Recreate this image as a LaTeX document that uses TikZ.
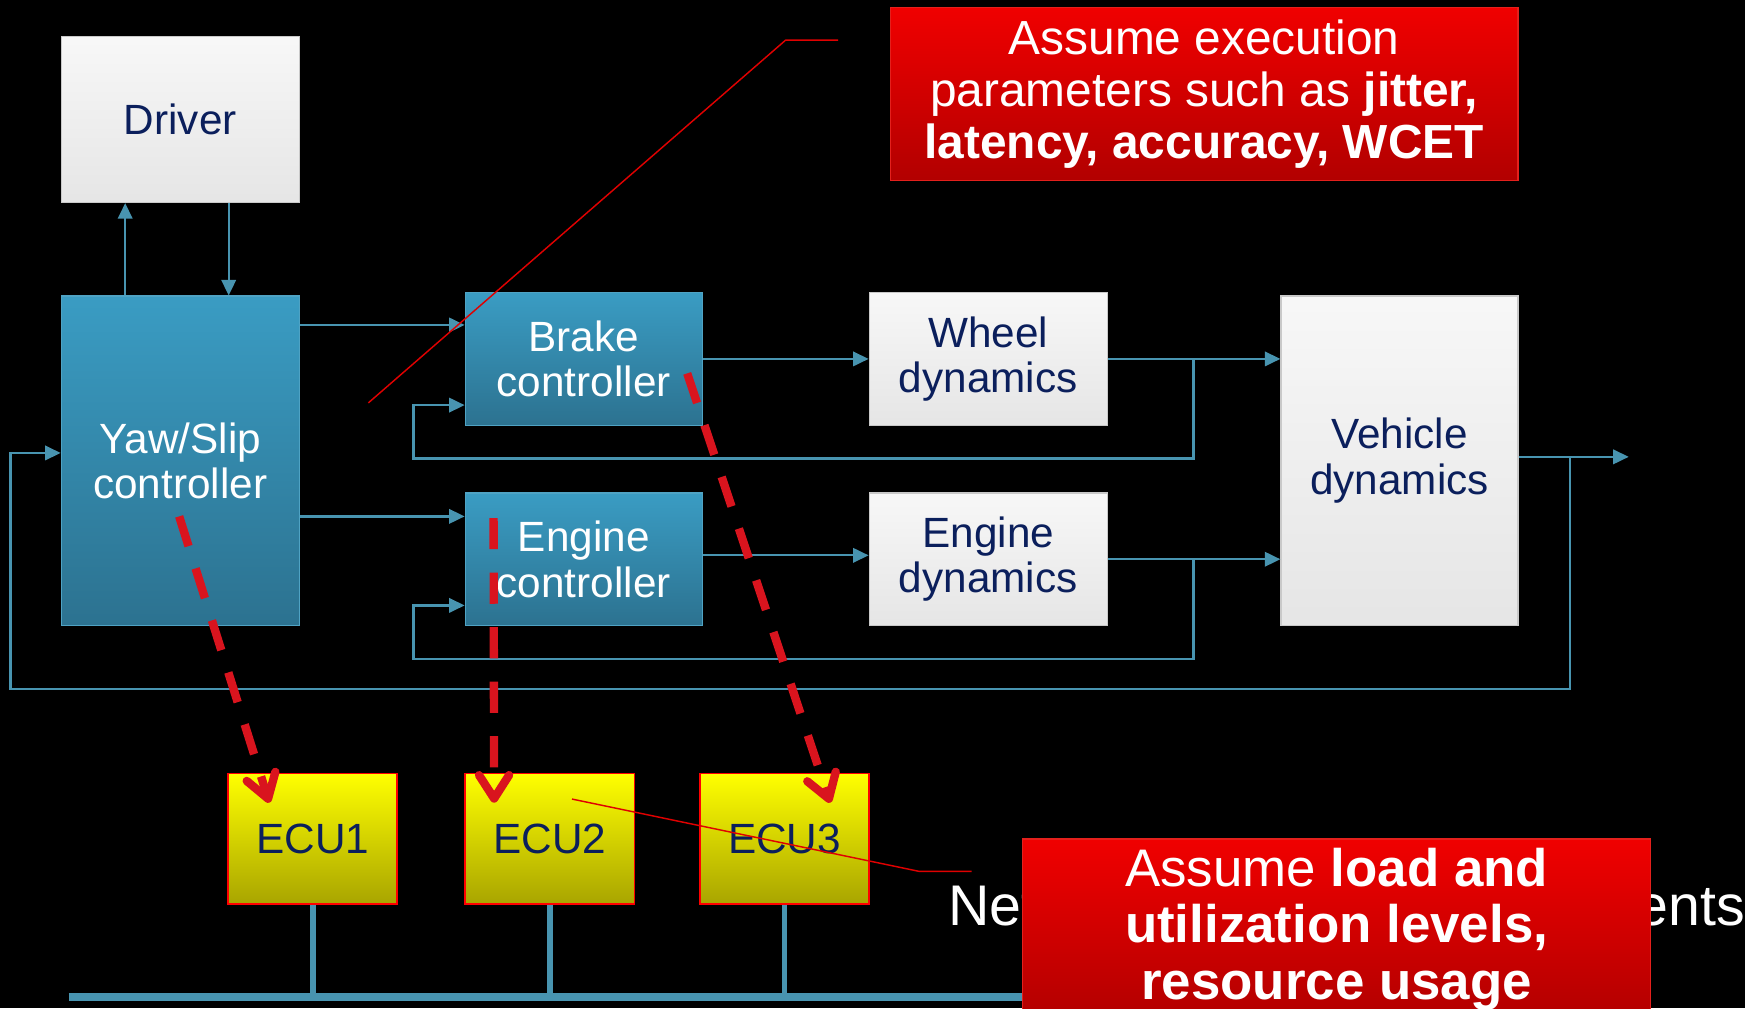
\documentclass[tikz,border=0pt]{standalone}
\usepackage{fontspec}
\setmainfont{Liberation Sans}
\usetikzlibrary{arrows.meta,calc}

\definecolor{navy}{HTML}{0B1F5C}
\definecolor{linkteal}{HTML}{4894B0}
\definecolor{tealtop}{HTML}{3A9CC3}
\definecolor{tealbot}{HTML}{2C7290}
\definecolor{tealedge}{HTML}{4FA3C4}
\definecolor{boxedge}{HTML}{C9C9C9}
\definecolor{ecutop}{HTML}{FFFF00}
\definecolor{ecubot}{HTML}{A9A500}
\definecolor{notetop}{HTML}{F00000}
\definecolor{notebot}{HTML}{B20000}
\definecolor{noteedge}{HTML}{E4201C}
\definecolor{dashred}{HTML}{D9141E}
\definecolor{leadred}{HTML}{E00000}

\begin{document}
\begin{tikzpicture}[x=1pt,y=-1pt,
  blockfont/.style={font=\fontsize{38}{41}\selectfont},
  whitebox/.style={blockfont, draw=boxedge, line width=1pt,
    top color=white!97!black, bottom color=white!90!black,
    text=navy, align=center, inner sep=0pt},
  tealbox/.style={blockfont, draw=tealedge, line width=1pt,
    top color=tealtop, bottom color=tealbot,
    text=white, align=center, inner sep=0pt},
  ecubox/.style={blockfont, draw=red, line width=1.5pt,
    top color=ecutop, bottom color=ecubot,
    text=navy, inner sep=0pt, minimum width=152pt, minimum height=117pt},
  notebox/.style={draw=noteedge, line width=1.2pt,
    top color=notetop, bottom color=notebot,
    text=white, align=center, inner sep=0pt},
  conn/.style={draw=linkteal, line width=2pt, -{Triangle[length=14pt,width=13pt]}},
  bus/.style={draw=linkteal, line width=7pt},
  stub/.style={draw=linkteal, line width=5pt},
  mapping/.style={draw=dashred, line width=7.5pt, dash pattern=on 28pt off 21pt,
    -{Straight Barb[length=21pt,width=27pt,round]}},
  leader/.style={draw=leadred, line width=1.3pt}
]

% canvas
\fill[black] (0,0) rectangle (1568,906);
\clip (0,0) rectangle (1568,906);

% blocks of the control loop
\node[whitebox, minimum width=214pt, minimum height=149pt] (driver) at (162,107.5) {Driver};
\node[tealbox, minimum width=214pt, minimum height=296pt] (yaw) at (162,414) {Yaw/Slip\\controller};
\node[tealbox, minimum width=213pt, minimum height=119pt] (brake) at (524.5,322.5) {Brake\\controller};
\node[tealbox, minimum width=213pt, minimum height=119pt] (engine) at (524.5,502.5) {Engine\\controller};
\node[whitebox, minimum width=214pt, minimum height=119pt] (wheel) at (888,322.5) {Wheel\\dynamics};
\node[whitebox, minimum width=214pt, minimum height=119pt] (engdyn) at (888,502.5) {Engine\\dynamics};
\node[whitebox, minimum width=213pt, minimum height=296pt] (vehicle) at (1257.5,414) {Vehicle\\dynamics};

% driver <-> yaw/slip controller
\draw[conn] ($(yaw.north west)+(58,0)$) -- ($(driver.south west)+(58,0)$);
\draw[conn] ($(driver.south west)+(151,0)$) -- ($(yaw.north west)+(151,0)$);

% controller commands
\coordinate (y2b) at ($(yaw.east)+(0,-122)$);
\draw[conn] (y2b) -- (y2b -| brake.west);
\coordinate (y2e) at ($(yaw.east)+(0,50)$);
\draw[conn] (y2e) -- (y2e -| engine.west);
\draw[conn] (brake.east) -- (wheel.west);
\coordinate (e2d) at ($(engine.east)+(0,-3.5)$);
\draw[conn] (e2d) -- (e2d -| engdyn.west);
\draw[conn] (wheel.east) -- (wheel.east -| vehicle.west);
\draw[conn] (engdyn.east) -- (engdyn.east -| vehicle.west);

% local feedback loops
\coordinate (wj) at ($(wheel.east)+(77,0)$);
\coordinate (bfb) at ($(brake.west)+(0,41.5)$);
\draw[conn] (wj) |- ($(bfb)+(-46,48)$) |- (bfb);
\coordinate (ej) at ($(engdyn.east)+(77,0)$);
\coordinate (efb) at ($(engine.west)+(0,41.5)$);
\draw[conn] (ej) |- ($(efb)+(-46,48)$) |- (efb);

% vehicle output and global feedback
\coordinate (vo) at ($(vehicle.east)+(0,-3.5)$);
\coordinate (vout) at ($(vo)+(99,0)$);
\draw[conn] (vo) -- (vout);
\coordinate (vj) at ($(vo)+(46,0)$);
\coordinate (yfb) at ($(yaw.west)+(0,-7)$);
\draw[conn] (vj) |- ($(yfb)+(-45,212)$) |- (yfb);

% ECUs on the bus
\node[ecubox] (ecu1) at (281,753.5) {ECU1};
\node[ecubox] (ecu2) at (494,753.5) {ECU2};
\node[ecubox] (ecu3) at (705,753.5) {ECU3};
\coordinate (busL) at (62,896);
\coordinate (busR) at (1300,896);
\draw[bus] (busL) -- (busR);
\draw[stub] (ecu1.south) -- (ecu1.south |- busL);
\draw[stub] (ecu2.south) -- (ecu2.south |- busL);
\draw[stub] (ecu3.south) -- (ecu3.south |- busL);

% task-to-ECU mapping
\draw[mapping] ($(yaw.center)+(-1,50)$) -- ($(ecu1.north)+(-39,27)$);
\draw[mapping] ($(engine.west)+(26,-37)$) -- ($(ecu2.north)+(-50,27)$);
\draw[mapping] ($(brake.east)+(-14,13)$) -- ($(ecu3.north)+(41,27)$);

% network label
\node[anchor=base west, text=white, inner sep=0pt, font=\fontsize{51.5}{60}\selectfont]
  (net) at (852,832) {Network and other components};

% call-outs
\coordinate (l1a) at (753,36);
\coordinate (l1b) at (331,362);
\draw[leader] (l1a) -- ++(-47,0) -- (l1b);
\coordinate (l2a) at (873,783);
\coordinate (l2b) at (514,718);
\draw[leader] (l2a) -- ++(-47,0) -- (l2b);

\node[notebox, minimum width=564pt, minimum height=155pt,
  font=\fontsize{43}{47}\selectfont] (note1) at (1082,84.5)
  {Assume execution\\parameters such as \textbf{jitter,}\\\textbf{latency, accuracy, WCET}};
\node[notebox, minimum width=564pt, minimum height=162pt,
  font=\fontsize{47.5}{51}\selectfont] (note2) at (1201,835)
  {Assume \textbf{load and}\\\textbf{utilization levels,}\\\textbf{resource usage}};
\end{tikzpicture}
\end{document}
